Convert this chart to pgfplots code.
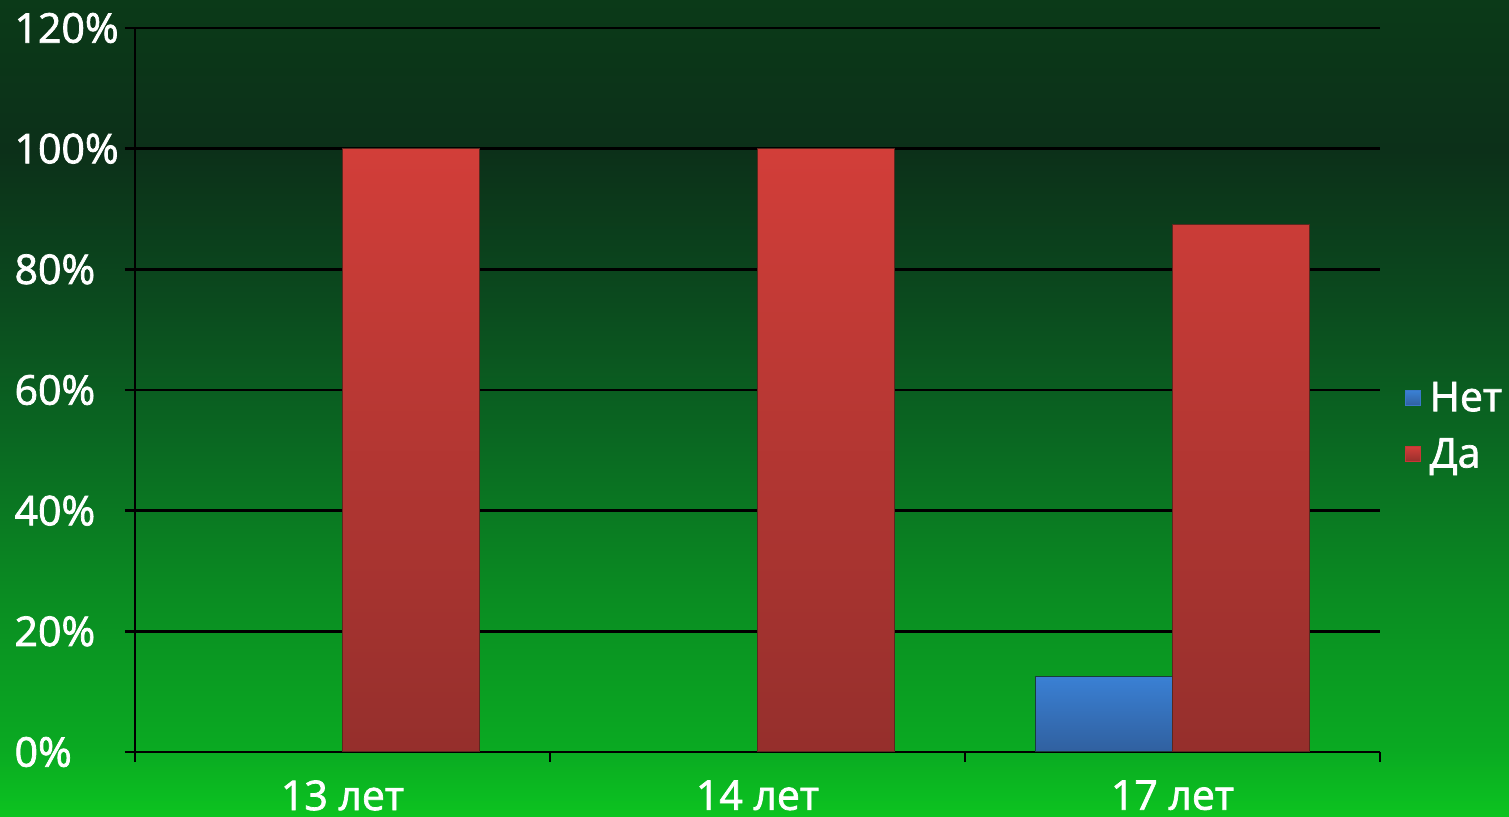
\documentclass[border=0pt]{standalone}
\usepackage{pgfplots}
\pgfplotsset{compat=1.18}
\usepackage{fontspec}
\setmainfont{Open Sans}[FakeBold=1.8]

% background greens, bottom to top
\definecolor{g0}{HTML}{0CC420}
\definecolor{g1}{HTML}{0AAA22}
\definecolor{g2}{HTML}{0A8D22}
\definecolor{g3}{HTML}{0A6A22}
\definecolor{g4}{HTML}{0B4A1E}
\definecolor{g5}{HTML}{0C3019}
\definecolor{g6}{HTML}{0B3A18}
\definecolor{redtop}{HTML}{D23E39}
\definecolor{redbot}{HTML}{952F2C}
\definecolor{bluetop}{HTML}{3A80D4}
\definecolor{bluebot}{HTML}{30609F}
\definecolor{redleg}{HTML}{C83636}
\definecolor{blueleg}{HTML}{3A78C8}

\pgfdeclareverticalshading{bg}{100bp}{color(0bp)=(g0); color(25bp)=(g0);
  color(29.1bp)=(g1); color(38.3bp)=(g2); color(47.5bp)=(g3);
  color(56.6bp)=(g4); color(65.8bp)=(g5); color(75bp)=(g6); color(100bp)=(g6)}

\begin{document}
\begin{tikzpicture}
\shade[shading=bg] (0,0) rectangle (754.5pt,408.5pt);
\begin{axis}[
  at={(67.5pt,32.5pt)}, anchor=south west,
  scale only axis, width=622.5pt, height=362pt,
  xmin=-0.5, xmax=2.5, ymin=0, ymax=120,
  axis x line*=bottom, axis y line*=left,
  axis line style={black, line width=1.2pt, -},
  font=\fontsize{20.5}{24}\selectfont,
  every tick label/.append style={text=white},
  /pgf/number format/assume math mode=true,
  tick align=outside, major tick length=5pt,
  tick style={black, line width=1.2pt},
  ytick={0,20,...,120},
  yticklabel={\pgfmathprintnumber{\tick}\%},
  yticklabel style={anchor=east, text width=54pt, align=left, inner sep=0pt, xshift=-1pt},
  ymajorgrids, grid style={black, line width=1.2pt},
  xtick={-0.5,0.5,1.5,2.5}, xticklabels={},
  extra x ticks={0,1,2},
  extra x tick labels={13 лет,14 лет,17 лет},
  extra x tick style={major tick length=0pt, xticklabel style={anchor=north, inner sep=0pt, text depth=0pt, yshift=-14pt}},
  bar width=0.33,
  legend style={at={(1.0195,0.45)}, anchor=west, draw=none, fill=none,
    text=white, font=\fontsize{20.5}{24}\selectfont, row sep=8pt,
    inner sep=0pt, nodes={inner sep=2pt}},
  legend cell align=left,
]
\addplot[ybar, bar shift=-0.165, top color=bluetop, bottom color=bluebot,
  draw={rgb,255:red,25;green,60;blue,60}, line width=0.5pt,
  legend image code/.code={\fill[blueleg] (0pt,-3.75pt) rectangle (7.5pt,3.75pt); \path (10pt,0pt);}]
  coordinates {(2,12.5)};
\addplot[ybar, bar shift=0.165, top color=redtop, bottom color=redbot,
  draw={rgb,255:red,90;green,40;blue,30}, line width=0.5pt,
  legend image code/.code={\fill[redleg] (0pt,-3.75pt) rectangle (7.5pt,3.75pt); \path (10pt,0pt);}]
  coordinates {(0,100) (1,100) (2,87.5)};
\legend{Нет,Да}
\end{axis}
\pgfresetboundingbox
\path (0,0) rectangle (754.5pt,408.5pt);
\end{tikzpicture}
\end{document}
